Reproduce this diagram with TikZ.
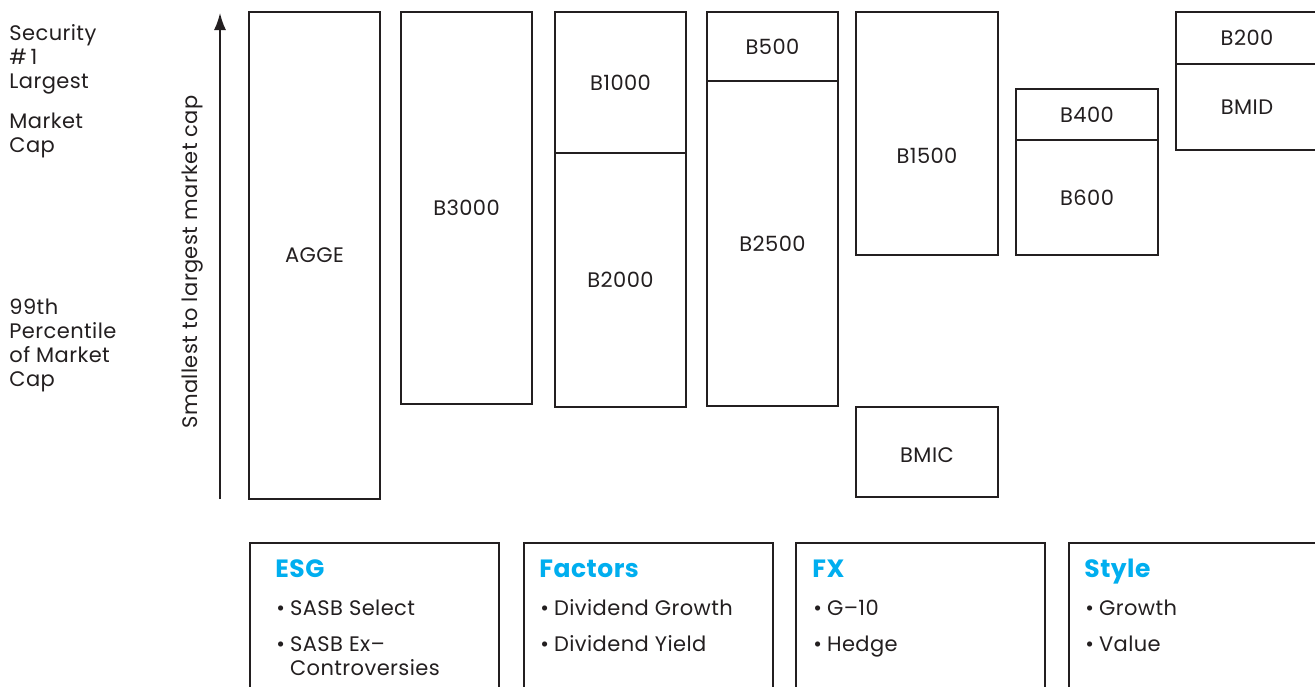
\documentclass[tikz,border=0pt]{standalone}
\usepackage{fontspec}
\setmainfont{Poppins}[LetterSpace=2]
\usetikzlibrary{arrows.meta,fit}
\definecolor{ink}{HTML}{231F20}
\definecolor{title-cyan}{HTML}{00AEEF}
\tikzset{
    index-box/.style = {draw=ink, line width=0.6pt, rectangle, inner sep=0pt},
    index-text/.style = {text=ink, font=\fontsize{10.5}{12}\selectfont, inner sep=0pt},
    group-box/.style = {draw=ink, line width=0.6pt, rectangle, inner sep=0pt},
    group-title/.style = {text=title-cyan, font=\fontsize{12.5}{15}\selectfont\bfseries, inner sep=0pt, anchor=base west},
    group-item/.style = {text=ink, font=\fontsize{10.5}{12}\selectfont, inner sep=0pt, anchor=base west},
    side-label/.style = {text=ink, font=\fontsize{10.5}{12}\selectfont, inner sep=0pt, align=left, anchor=base west},
    every label/.style = {index-text},
}
\newcommand{\itembullet}{\textbullet\hspace{2.5pt}}

\begin{document}
\begin{tikzpicture}[x=0.5pt, y=-0.5pt]
\clip (0,0) rectangle (1315,686);
\fill[white] (0,0) rectangle (1315,686);

% labels on the left (base = last line)
\node[side-label] (top-label) at (9,88) {Security\\\#\,1\\Largest};
\node[side-label] (top-label-2) at (9,152) {Market\\Cap};
\node[side-label] (low-label) at (9,386) {99th\\Percentile\\of Market\\Cap};

% size axis
\coordinate (axis-low) at (220,499);
\coordinate (axis-high) at (220,13);
\draw[ink, line width=0.8pt, -{Latex[length=8.5pt, width=6pt]}] (axis-low) -- (axis-high);
\node[rotate=90, index-text] (axis-label) at (193,262) {Smallest to largest market cap};

% index boxes
\node[index-box, fit={(249,12) (380,499)}, label=center:AGGE] (agge) {};
\node[index-box, fit={(401,12) (532,404)}, label=center:B3000] (b3000) {};
\node[index-box, fit={(555,12) (686,153)}, label=center:B1000] (b1000) {};
\node[index-box, fit={(555,153) (686,407)}, label=center:B2000] (b2000) {};
\node[index-box, fit={(707,12) (838,81)}, label=center:B500] (b500) {};
\node[index-box, fit={(707,81) (838,406)}, label=center:B2500] (b2500) {};
\node[index-box, fit={(856,12) (998,255)}, label={[yshift=-11.25pt]center:B1500}] (b1500) {};
\node[index-box, fit={(856,407) (998,497)}, label={[yshift=-1.5pt]center:BMIC}] (bmic) {};
\node[index-box, fit={(1016,89) (1158,140)}, label=center:B400] (b400) {};
\node[index-box, fit={(1016,140) (1158,255)}, label=center:B600] (b600) {};
\node[index-box, fit={(1176,12) (1318,64)}, label=center:B200] (b200) {};
\node[index-box, fit={(1176,64) (1318,150)}, label=center:BMID] (bmid) {};

% group boxes
\node[group-box, fit={(250,543) (499,720)}] (esg) {};
\node[group-title] (esg-title) at (275,577) {ESG};
\node[group-item] (esg-1) at (276,615) {\itembullet SASB Select};
\node[group-item] (esg-2) at (276,651) {\itembullet\begin{tabular}[t]{@{}l@{}}SASB Ex–\\Controversies\end{tabular}};

\node[group-box, fit={(524,543) (773,720)}] (factors) {};
\node[group-title] (factors-title) at (539,577) {Factors};
\node[group-item] (factors-1) at (540,615) {\itembullet Dividend Growth};
\node[group-item] (factors-2) at (540,651) {\itembullet Dividend Yield};

\node[group-box, fit={(796,543) (1045,720)}] (fx) {};
\node[group-title] (fx-title) at (812,577) {FX};
\node[group-item] (fx-1) at (813,615) {\itembullet G–10};
\node[group-item] (fx-2) at (813,651) {\itembullet Hedge};

\node[group-box, fit={(1069,543) (1330,720)}] (style) {};
\node[group-title] (style-title) at (1084,577) {Style};
\node[group-item] (style-1) at (1085,615) {\itembullet Growth};
\node[group-item] (style-2) at (1085,651) {\itembullet Value};
\end{tikzpicture}
\end{document}
